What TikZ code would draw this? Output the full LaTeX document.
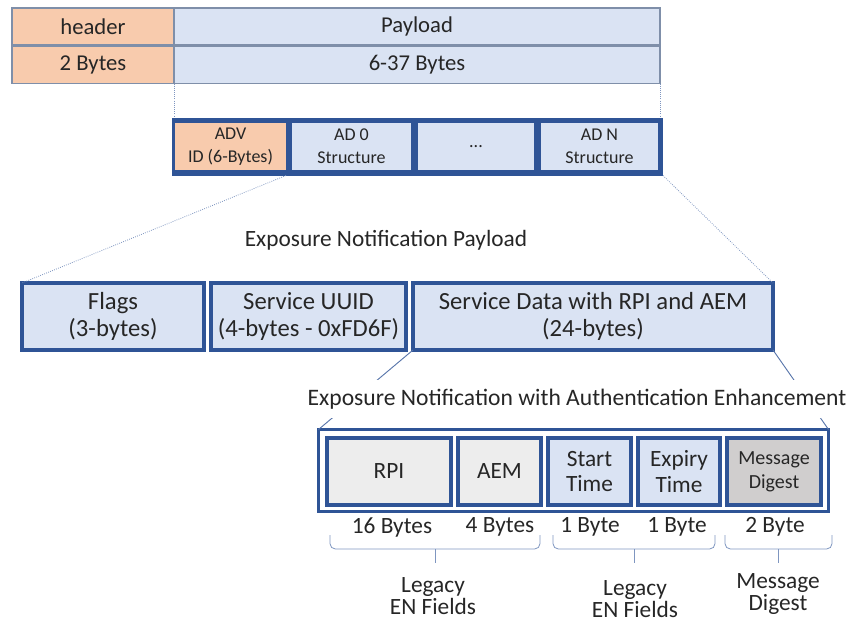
\documentclass[tikz,border=0pt]{standalone}
\usepackage{fontspec}
\setmainfont{Carlito}
\usepackage{tikz}
\usetikzlibrary{positioning,calc}
\definecolor{frameblue}{HTML}{2F5496}
\definecolor{cellblue}{HTML}{DAE3F3}
\definecolor{cellorange}{HTML}{F8CBAD}
\definecolor{cellgray}{HTML}{EDEDED}
\definecolor{digestgray}{HTML}{D0CECE}
\definecolor{rowedge}{HTML}{7F8FA9}
\definecolor{guide}{HTML}{7F96C0}
\definecolor{txt}{HTML}{262626}

\begin{document}
\begin{tikzpicture}[x=0.75pt,y=-0.75pt,
    rowbox/.style={draw=rowedge, line width=0.9pt, fill=cellblue, minimum height=27.75pt, inner sep=0pt, outer sep=0pt, text=txt, font=\fontsize{17}{19}\selectfont},
    adcell/.style={fill=cellblue, minimum height=35.25pt, inner sep=0pt, outer sep=0pt, align=center, text=txt, font=\fontsize{13.5}{17}\selectfont},
    fieldbox/.style={draw=frameblue, line width=3pt, fill=cellblue, minimum height=50.25pt, inner sep=0pt, outer sep=0pt, align=center, text=txt, font=\fontsize{18.5}{20}\selectfont},
    encell/.style={draw=frameblue, line width=3pt, fill=cellblue, minimum height=50.25pt, inner sep=0pt, outer sep=0pt, align=center, text=txt, font=\fontsize{17.5}{19}\selectfont},
    lbl/.style={inner sep=1pt, align=center, text=txt, font=\fontsize{17.5}{16.5}\selectfont},
    dotline/.style={draw=guide, densely dotted, line width=0.6pt},
    link/.style={draw=frameblue!80, line width=0.7pt},
    brace/.style={draw=guide, line width=0.6pt, rounded corners=4pt}
]
\useasboundingbox (0,0) rectangle (850,625);

\node[rowbox, fill=cellorange, minimum width=121.5pt] (hdr) at (93,26.5) {header};
\node[rowbox, minimum width=364.5pt] (pay) at (417,26.5) {Payload};
\node[rowbox, fill=cellorange, minimum width=121.5pt] (hdrb) at (93,65) {2 Bytes};
\node[rowbox, minimum width=364.5pt] (payb) at (417,65) {6-37 Bytes};

\node[fill=frameblue, minimum width=368.25pt, minimum height=43.5pt, inner sep=0pt, outer sep=0pt] (adframe) at (417.5,146.5) {};
\node[adcell, fill=cellorange, minimum width=83.25pt] (advid) at (230.5,146.5) {ADV\\ID (6-Bytes)};
\node[adcell, minimum width=89.25pt] (ad0) at (351.5,146.5) {AD 0\\Structure};
\node[adcell, minimum width=87pt] (addots) at (476,146.5) {...};
\node[adcell, minimum width=87.75pt] (adn) at (599.5,146.5) {AD N\\Structure};

\draw[dotline] (payb.south west) -- (payb.south west |- adframe.north);
\draw[dotline] (payb.south east) -- (payb.south east |- adframe.north);

\node[lbl] (enpay) at (386,240) {Exposure Notification Payload};

\node[fieldbox, minimum width=136.5pt] (flags) at (113,316.5) {Flags\\(3-bytes)};
\node[fieldbox, minimum width=146.25pt] (uuid) at (308.5,316.5) {Service UUID\\(4-bytes - 0xFD6F)};
\node[fieldbox, minimum width=270pt] (sd) at (593,316.5) {Service Data with RPI and AEM\\(24-bytes)};

\draw[dotline] (advid.south east |- adframe.south) -- (flags.north west);
\draw[dotline] (adframe.south east) -- (sd.north east);

\node[draw=frameblue, line width=2.25pt, fill=white, minimum width=382.5pt, minimum height=61.5pt, inner sep=0pt, outer sep=0pt] (enframe) at (573.5,470.5) {};
\node[encell, fill=cellgray, minimum width=93pt] (rpi) at (389,471.5) {RPI};
\node[encell, fill=cellgray, minimum width=62.25pt] (aem) at (499.5,471.5) {AEM};
\node[encell, minimum width=62.25pt] (start) at (589.5,471.5) {Start\\Time};
\node[encell, minimum width=61.5pt] (expiry) at (679,471.5) {Expiry\\Time};
\node[encell, fill=digestgray, minimum width=70.5pt, font=\fontsize{15}{18}\selectfont] (digest) at (774,471.5) {Message\\Digest};

\draw[link] (sd.south west) -- (enframe.north west);
\draw[link] (sd.south east) -- (enframe.north east);
\node[lbl, fill=white, inner ysep=7pt, font=\fontsize{17.7}{20}\selectfont] (enlabel) at (577,399) {Exposure Notification with Authentication Enhancement};

\node[lbl] (rpibytes) at (392,527) {16 Bytes};
\node[lbl] (aembytes) at (500,527) {4 Bytes};
\node[lbl] (startbytes) at (590,527) {1 Byte};
\node[lbl] (expirybytes) at (677,527) {1 Byte};
\node[lbl] (digestbytes) at (775,527) {2 Byte};

\draw[brace] (330,535) -- (330,549) -- (540,549) -- (540,535);
\draw[brace] (435,549) -- (435,563);
\draw[brace] (553,535) -- (553,549) -- (715,549) -- (715,535);
\draw[brace] (634,549) -- (634,563);
\draw[brace] (725,535) -- (725,549) -- (832,549) -- (832,535);
\draw[brace] (778,549) -- (778,563);

\node[lbl] (legacya) at (433,596) {Legacy\\EN Fields};
\node[lbl] (legacyb) at (635,599) {Legacy\\EN Fields};
\node[lbl] (digestlbl) at (778,594) {Message\\Digest};
\end{tikzpicture}
\end{document}
